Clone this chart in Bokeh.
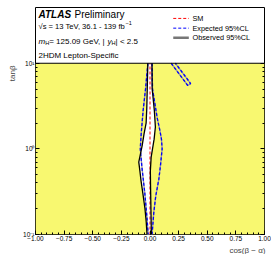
import math
from bokeh.plotting import figure
from bokeh.models import Label, Span, FixedTicker, LogAxis, CustomJSTickFormatter, Title
from bokeh.embed import file_html
from bokeh.resources import INLINE

# ---- data ----
obs_left_tanb = [10, 5, 3, 2, 1.5, 1.1, 0.85, 0.7, 0.55, 0.42, 0.3, 0.2, 0.14, 0.1]
obs_left_cba = [-0.019, -0.024, -0.028, -0.034, -0.052, -0.068, -0.085, -0.098, -0.088, -0.078, -0.062, -0.044, -0.033, -0.026]
obs_right_tanb = [10, 5, 2.8, 1.8, 1.3, 1.0, 0.8, 0.55, 0.35, 0.2, 0.1]
obs_right_cba = [0.017, 0.019, 0.038, 0.047, 0.036, 0.022, 0.010, 0.003, 0.005, 0.008, 0.012]

exp_left_tanb = [10, 5, 2.8, 1.5, 1.0, 0.6, 0.3, 0.15, 0.1]
exp_left_cba = [-0.019, -0.039, -0.06, -0.077, -0.085, -0.07, -0.045, -0.025, -0.016]
exp_right_tanb = [10, 5, 2.3, 1.6, 1.3, 1.0, 0.65, 0.44, 0.28, 0.18, 0.1]
exp_right_cba = [0.018, 0.022, 0.063, 0.088, 0.10, 0.106, 0.092, 0.077, 0.05, 0.033, 0.018]

exp_island_cba = [0.185, 0.33, 0.355, 0.222]
exp_island_tanb = [10, 5.5, 5.8, 10]

sm_cba = [0.0, 0.0]
sm_tanb = [0.1, 10]

x_ticks = [-1.0, -0.75, -0.5, -0.25, 0.0, 0.25, 0.5, 0.75, 1.0]
y_ticks = [0.1, 1, 10]

cba_min, cba_max = -1.0, 1.0
tanb_min, tanb_max = 0.1, 10

FONT = "Liberation Sans"
YELLOW = "#f8f870"

p = figure(width=271, height=254, x_range=(cba_min, cba_max), y_range=(tanb_min, 44.8),
           y_axis_type="log", output_backend="svg", toolbar_location=None,
           min_border_left=35, min_border_right=7, min_border_top=7, min_border_bottom=19)
p.background_fill_color = "white"
p.border_fill_color = "white"
p.outline_line_color = "black"
p.outline_line_width = 1
p.xgrid.visible = False
p.ygrid.visible = False

# excluded region and allowed region
p.quad(left=cba_min, right=cba_max, bottom=tanb_min, top=tanb_max, fill_color=YELLOW, line_color=None)
p.patch(obs_left_cba + obs_right_cba[::-1], obs_left_tanb + obs_right_tanb[::-1],
        fill_color="white", line_color=None)
p.add_layout(Span(location=tanb_max, dimension="width", line_color="black", line_width=1))

# SM
p.line(sm_cba, sm_tanb, line_color="#ff0000", line_dash="3 2", line_width=1)
# expected
for xs, ys in [(exp_left_cba, exp_left_tanb), (exp_right_cba, exp_right_tanb), (exp_island_cba, exp_island_tanb)]:
    p.line(xs, ys, line_color="#9a9a9a", line_width=1.3)
    p.line(xs, ys, line_color="#0000ff", line_width=1.3, line_dash="3 2")
# observed
for xs, ys in [(obs_left_cba, obs_left_tanb), (obs_right_cba, obs_right_tanb)]:
    p.line(xs, ys, line_color="black", line_width=1.3)

# axes
minor_x = [round(-1 + 0.05 * i, 2) for i in range(41)]
minor_y = [m * 10 ** e for e in (-1, 0) for m in range(2, 10)]
xfmt = CustomJSTickFormatter(code='return (tick < -1e-9 ? "\\u2212" : "") + Math.abs(tick).toFixed(2);')
yfmt = CustomJSTickFormatter(code='const m = {"-1":"10\\u207b\\u00b9","0":"10\\u2070","1":"10\\u00b9"}; return m[String(Math.round(Math.log10(tick)))] || "";')

xa = p.xaxis[0]
xa.ticker = FixedTicker(ticks=x_ticks, minor_ticks=minor_x)
xa.formatter = xfmt
ya = p.yaxis[0]
ya.ticker = FixedTicker(ticks=y_ticks, minor_ticks=minor_y)
ya.formatter = yfmt

for ax in (xa, ya):
    ax.axis_line_color = None
    ax.major_tick_in = 4
    ax.major_tick_out = 0
    ax.minor_tick_in = 2
    ax.minor_tick_out = 0
    ax.major_tick_line_color = "black"
    ax.minor_tick_line_color = "black"
    ax.major_label_text_font = FONT
    ax.major_label_text_font_size = "6.5px"
    ax.major_label_text_color = "black"
    ax.major_label_standoff = 1

ra = LogAxis(ticker=FixedTicker(ticks=y_ticks, minor_ticks=minor_y),
             formatter=CustomJSTickFormatter(code='return "";'))
ra.axis_line_color = None
ra.major_tick_in = 4
ra.major_tick_out = 0
ra.minor_tick_in = 2
ra.minor_tick_out = 0
ra.major_label_standoff = 0
ra.major_label_text_font_size = "1px"
p.add_layout(ra, "right")

# axis titles (matplotlib-style, at the ends of the axes)
p.add_layout(Title(text="cos(\u03b2 \u2212 \u03b1)", align="right", text_font=FONT,
                   text_font_size="8px", text_font_style="normal", standoff=0, offset=-1), "below")
p.add_layout(Title(text="tan\u03b2", align="right", text_font=FONT,
                   text_font_size="8px", text_font_style="normal", standoff=8, offset=58), "left")

# header texts
def lab(x, y, text, size, style="normal", xo=0, yo=0, **kw):
    p.add_layout(Label(x=x, y=y, text=text, text_font=FONT, text_font_size=size,
                       text_font_style=style, x_offset=xo, y_offset=yo,
                       text_baseline="middle", text_color="black", **kw))

tx = -0.974
lab(tx, 37.6, "ATLAS", "10px", "bold italic")
lab(tx, 37.6, "Preliminary", "10px", xo=36)
lab(tx, 26.9, "\u221as = 13 TeV, 36.1 - 139 fb", "7.6px")
lab(tx, 26.9, "\u22121", "5.5px", xo=87, yo=3)
lab(tx, 18.0, "m", "8px", "italic")
lab(tx, 18.0, "H", "5.6px", xo=6.7, yo=-2)
lab(tx, 18.0, " = 125.09 GeV, |", "8px", xo=10.7)
lab(tx, 18.0, "y", "8px", "italic", xo=69.0)
lab(tx, 18.0, "H", "5.6px", xo=73.0, yo=-2)
lab(tx, 18.0, "| < 2.5", "8px", xo=77.1)
lab(tx, 12.4, "2HDM Lepton-Specific", "8px")

# legend
leg_x = [0.203, 0.339]
lab_x = 0.371
p.line(leg_x, [33.4, 33.4], line_color="#ff0000", line_dash="3 2", line_width=1)
p.line(leg_x, [25.7, 25.7], line_color="#0000ff", line_dash="3 2", line_width=1)
p.line(leg_x, [19.9, 19.9], line_color="#777777", line_width=2.5)
lab(lab_x, 33.4, "SM", "7.3px")
lab(lab_x, 25.7, "Expected 95%CL", "7.3px")
lab(lab_x, 19.9, "Observed 95%CL", "7.3px")

open("out.html", "w").write(file_html(p, INLINE))
